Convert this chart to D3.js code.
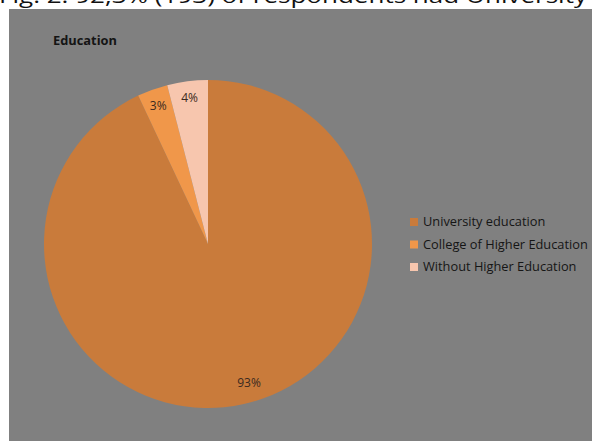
<!DOCTYPE html>
<html><head><meta charset="utf-8">
<script src="https://cdn.jsdelivr.net/npm/d3@7"></script>
<style>html,body{margin:0;padding:0;background:#fff;overflow:hidden}</style>
</head><body>
<script>
const categories = ["University education", "College of Higher Education", "Without Higher Education"];
const values = [93, 3, 4];
const labels = ["93%", "3%", "4%"];
const colors = ["#C97B3B", "#F0974A", "#F7C6AE"];
const title = "Education";
const caption = "Fig. 2. 92,3% (193) of respondents had University";

const W = 592, H = 441;
const svg = d3.select("body").append("svg").attr("width", W).attr("height", H);
svg.append("rect").attr("x", 0).attr("y", 0).attr("width", W).attr("height", H).attr("fill", "#fff");
svg.append("text").attr("x", -1).attr("y", 3).attr("font-family", "Open Sans, sans-serif")
  .attr("font-size", 20).attr("fill", "#111").attr("textLength", 588).attr("lengthAdjust", "spacingAndGlyphs")
  .text(caption);
svg.append("rect").attr("x", 9).attr("y", 9).attr("width", W - 9).attr("height", H - 9).attr("fill", "#808080");

svg.append("text").attr("x", 53).attr("y", 45).attr("font-family", "Open Sans, sans-serif")
  .attr("font-weight", "bold").attr("font-size", 13).attr("fill", "#141414").attr("textLength", 64)
  .attr("lengthAdjust", "spacingAndGlyphs").text(title);

const cx = 208, cy = 244, r = 164;
const pie = d3.pie().sort(null).value(d => d)(values);
const arc = d3.arc().innerRadius(0).outerRadius(r);
const labelArc = d3.arc().innerRadius(147).outerRadius(147);
const g = svg.append("g").attr("transform", `translate(${cx},${cy})`);
g.selectAll("path").data(pie).join("path").attr("d", arc).attr("fill", (d, i) => colors[i]);
g.selectAll("text").data(pie).join("text")
  .attr("transform", (d, i) => {
    const c = labelArc.centroid(d);
    return i === 0 ? `translate(${c[0] + 9},${c[1] - 5})` : `translate(${c})`;
  })
  .attr("text-anchor", "middle").attr("dy", "0.35em")
  .attr("font-family", "Open Sans, sans-serif").attr("font-size", 12).attr("fill", "#3a2a20")
  .text((d, i) => labels[i]);

const lg = svg.append("g");
const ly = d3.scalePoint().domain(categories).range([222, 267]);
categories.forEach((c, i) => {
  lg.append("rect").attr("x", 410).attr("y", ly(c) - 4).attr("width", 8).attr("height", 8).attr("fill", colors[i]);
  lg.append("text").attr("x", 423).attr("y", ly(c)).attr("dy", "0.35em")
    .attr("font-family", "Open Sans, sans-serif").attr("font-size", 12.8).attr("fill", "#151515").text(c);
});
</script>
</body></html>
